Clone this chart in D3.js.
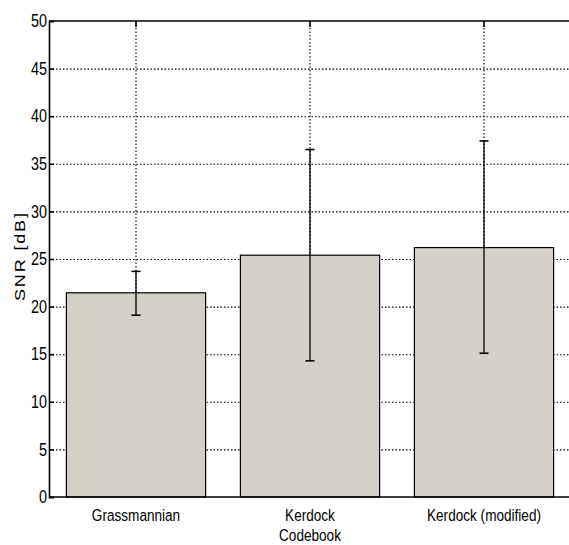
<!DOCTYPE html>
<html>
<head>
<meta charset="utf-8">
<script src="https://cdn.jsdelivr.net/npm/d3@7"></script>
<style>
  body { margin: 0; background: #fff; }
  svg text { font-family: "Liberation Sans", Arial, sans-serif; fill: #000; }
  .grid line { stroke: #000; stroke-width: 1.1; stroke-dasharray: 1.5,2; }
  .grid .domain { display: none; }
</style>
</head>
<body>
<div id="graph"></div>
<script>
// chart values
var categories = ["Grassmannian", "Kerdock Codebook", "Kerdock (modified)"];
var labelLines = [["Grassmannian"], ["Kerdock", "Codebook"], ["Kerdock (modified)"]];
var snrMean = [21.45, 25.4, 26.2];
var snrLow = [19.1, 14.3, 15.1];
var snrHigh = [23.7, 36.5, 37.4];
var yTicks = [0, 5, 10, 15, 20, 25, 30, 35, 40, 45, 50];

var margin = { top: 21, left: 49 },
    step = 174,
    width = step * 3,
    height = 476,
    squeeze = 0.8; // the picture's text is horizontally condensed

var svg = d3.select("#graph")
    .append("svg")
    .attr("width", 569)
    .attr("height", 545)
    .style("display", "block")
    .append("g")
    .attr("transform", "translate(" + margin.left + "," + margin.top + ")");

var x = d3.scaleBand()
    .domain(categories)
    .range([0, width])
    .paddingInner(0.2)
    .paddingOuter(0.1);

var y = d3.scaleLinear()
    .domain([0, 50])
    .range([height, 0]);

// horizontal grid
svg.append("g")
    .attr("class", "grid")
    .call(d3.axisLeft(y)
        .tickValues(yTicks.slice(1, -1))
        .tickSize(-width)
        .tickFormat(""));

// vertical grid at category centres
svg.append("g")
    .attr("class", "grid")
    .call(d3.axisTop(x)
        .tickSize(-height)
        .tickFormat(""));

// bars
svg.selectAll(".bar")
    .data(categories)
    .enter().append("rect")
    .attr("class", "bar")
    .attr("x", function (d) { return x(d); })
    .attr("width", x.bandwidth())
    .attr("y", function (d, i) { return y(snrMean[i]); })
    .attr("height", function (d, i) { return height - y(snrMean[i]); })
    .attr("fill", "#d4d0c8")
    .attr("stroke", "#000")
    .attr("stroke-width", 1.2);

// error bars
var err = svg.selectAll(".err")
    .data(categories)
    .enter().append("g")
    .attr("class", "err")
    .attr("transform", function (d) { return "translate(" + (x(d) + x.bandwidth() / 2) + ",0)"; });

err.append("line")
    .attr("y1", function (d, i) { return y(snrLow[i]); })
    .attr("y2", function (d, i) { return y(snrHigh[i]); })
    .attr("stroke", "#000").attr("stroke-width", 1.3);

err.append("line")
    .attr("x1", -4.5).attr("x2", 4.5)
    .attr("y1", function (d, i) { return y(snrLow[i]); })
    .attr("y2", function (d, i) { return y(snrLow[i]); })
    .attr("stroke", "#000").attr("stroke-width", 1.6);

err.append("line")
    .attr("x1", -4.5).attr("x2", 4.5)
    .attr("y1", function (d, i) { return y(snrHigh[i]); })
    .attr("y2", function (d, i) { return y(snrHigh[i]); })
    .attr("stroke", "#000").attr("stroke-width", 1.6);

// axes box
svg.append("line").attr("x1", 0).attr("x2", width).attr("y1", 0).attr("y2", 0)
    .attr("stroke", "#000").attr("stroke-width", 1.6);
svg.append("line").attr("x1", 0).attr("x2", width).attr("y1", height).attr("y2", height)
    .attr("stroke", "#000").attr("stroke-width", 1.6);

// top ticks
svg.append("g")
    .call(d3.axisTop(x).tickSize(-6).tickFormat(""))
    .call(function (g) { g.select(".domain").remove(); })
    .selectAll("line").attr("stroke-width", 1.6);

// y axis with inward ticks
var pad = 2;
var yAxis = svg.append("g")
    .call(d3.axisLeft(y).tickValues(yTicks).tickSize(-5).tickPadding(pad));
yAxis.select(".domain").attr("stroke-width", 1.6);
yAxis.selectAll("line").attr("stroke-width", 1.6);
yAxis.selectAll("text")
    .attr("font-size", 18)
    .attr("transform", "translate(" + (-pad) + ",0) scale(" + squeeze + ",1) translate(" + pad + ",0)");

// x labels
var xl = svg.selectAll(".xlabel")
    .data(categories)
    .enter().append("g")
    .attr("class", "xlabel")
    .attr("transform", function (d) {
        return "translate(" + (x(d) + x.bandwidth() / 2) + "," + (height + 24) + ") scale(" + squeeze + ",1)";
    })
    .append("text")
    .attr("text-anchor", "middle")
    .attr("font-size", 17);
xl.selectAll("tspan")
    .data(function (d, i) { return labelLines[i]; })
    .enter().append("tspan")
    .attr("x", 0)
    .attr("dy", function (d, i) { return i === 0 ? 0 : 20; })
    .text(function (d) { return d; });

// y label
svg.append("g")
    .attr("transform", "translate(-29," + (height / 2 - 2) + ") scale(" + squeeze + ",1) rotate(-90)")
    .append("text")
    .attr("text-anchor", "middle")
    .attr("dy", "0.35em")
    .attr("font-size", 18)
    .attr("textLength", 88)
    .attr("lengthAdjust", "spacing")
    .text("SNR [dB]");
</script>
</body>
</html>
